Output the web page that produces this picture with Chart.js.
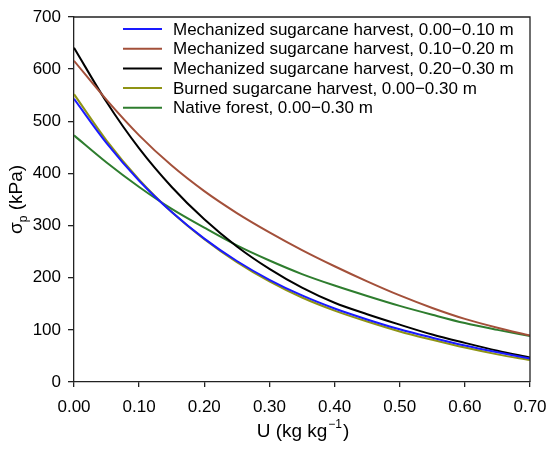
<!DOCTYPE html>
<html>
<head>
<meta charset="utf-8">
<script src="https://cdn.jsdelivr.net/npm/chart.js@4.4.1/dist/chart.umd.min.js"></script>
<style>
  html, body { margin: 0; padding: 0; background: #fff; }
  #wrap { width: 550px; height: 453px; }
</style>
</head>
<body>
<div id="wrap"><canvas id="precon"></canvas></div>
<script>
// water content U (kg kg-1), read every 0.05
const moistureU = [0, 0.05, 0.10, 0.15, 0.20, 0.25, 0.30, 0.35, 0.40, 0.45, 0.50, 0.55, 0.60, 0.65, 0.70];

// preconsolidation pressure (kPa)
const mech0010 = [543, 458, 386, 326, 275, 232, 196, 166, 141, 120, 101, 85, 70, 57, 45];
const mech1020 = [616, 541, 473, 415, 366, 324, 287, 253, 222, 193, 166, 142, 121, 104, 89];
const mech2030 = [641, 537, 448, 374, 312, 260, 217, 181, 152, 130, 110, 91, 75, 60, 47];
const burned0030 = [552, 463, 388, 326, 274, 230, 193, 162, 137, 116, 97, 81, 66, 53, 42];
const forest0030 = [473, 421, 374, 332, 296, 262, 233, 207, 185, 165, 146, 129, 113, 100, 88];

const seriesLabels = [
  "Mechanized sugarcane harvest, 0.00\u22120.10 m",
  "Mechanized sugarcane harvest, 0.10\u22120.20 m",
  "Mechanized sugarcane harvest, 0.20\u22120.30 m",
  "Burned sugarcane harvest, 0.00\u22120.30 m",
  "Native forest, 0.00\u22120.30 m"
];
const seriesColors = ["#1a1aff", "#a3503a", "#000000", "#8f9414", "#2e7d2e"];

const yTicks = [0, 100, 200, 300, 400, 500, 600, 700];
const xTicks = [0, 0.1, 0.2, 0.3, 0.4, 0.5, 0.6, 0.7];

const FONT = "'Liberation Sans', Arial, sans-serif";

function toPoints(vals) {
  return vals.map((v, i) => ({ x: moistureU[i], y: v }));
}

const allSeries = [mech0010, mech1020, mech2030, burned0030, forest0030];

// legend drawn inside the plot, top right
const innerLegend = {
  id: 'innerLegend',
  afterDatasetsDraw(chart) {
    const ctx = chart.ctx;
    const a = chart.chartArea;
    ctx.save();
    ctx.font = "17px " + FONT;
    ctx.textBaseline = 'middle';
    ctx.fillStyle = '#000';
    chart.data.datasets.forEach((ds, i) => {
      const y = a.top + 12 + i * 19.7;
      ctx.strokeStyle = ds.borderColor;
      ctx.lineWidth = 2;
      ctx.beginPath();
      ctx.moveTo(a.left + 49, y);
      ctx.lineTo(a.left + 88, y);
      ctx.stroke();
      ctx.fillText(ds.label, a.left + 99, y + 1);
    });
    ctx.restore();
  }
};

// box around plot + axis titles with sub/superscripts
const frameAndTitles = {
  id: 'frameAndTitles',
  afterDraw(chart) {
    const ctx = chart.ctx;
    const a = chart.chartArea;
    ctx.save();
    ctx.strokeStyle = '#222';
    ctx.lineWidth = 1.3;
    ctx.beginPath();
    ctx.moveTo(a.left, a.top);
    ctx.lineTo(a.right, a.top);
    ctx.lineTo(a.right, a.bottom);
    ctx.stroke();

    ctx.fillStyle = '#000';
    ctx.textBaseline = 'alphabetic';

    // x title: U (kg kg^-1)
    const big = "19px " + FONT, small = "12px " + FONT;
    ctx.font = big;
    const p1 = "U (kg kg", p3 = ")";
    const w1 = ctx.measureText(p1).width, w3 = ctx.measureText(p3).width;
    ctx.font = small;
    const p2 = "\u22121";
    const w2 = ctx.measureText(p2).width;
    let x = (a.left + a.right) / 2 - (w1 + w2 + w3) / 2;
    const yb = 437;
    ctx.font = big; ctx.fillText(p1, x, yb); x += w1 + 1;
    ctx.font = small; ctx.fillText(p2, x, yb - 9); x += w2 + 1;
    ctx.font = big; ctx.fillText(p3, x, yb);

    // y title: sigma_p (kPa)
    ctx.translate(22, (a.top + a.bottom) / 2);
    ctx.rotate(-Math.PI / 2);
    ctx.font = big;
    const q1 = "\u03c3", q3 = " (kPa)";
    const v1 = ctx.measureText(q1).width, v3 = ctx.measureText(q3).width;
    ctx.font = small;
    const q2 = "p";
    const v2 = ctx.measureText(q2).width;
    let t = -(v1 + v2 + v3) / 2;
    ctx.font = big; ctx.fillText(q1, t, 0); t += v1;
    ctx.font = small; ctx.fillText(q2, t, 5); t += v2;
    ctx.font = big; ctx.fillText(q3, t, 0);
    ctx.restore();
  }
};

new Chart(document.getElementById('precon'), {
  type: 'line',
  data: {
    datasets: allSeries.map((vals, i) => ({
      label: seriesLabels[i],
      data: toPoints(vals),
      borderColor: seriesColors[i],
      backgroundColor: seriesColors[i],
      borderWidth: 2,
      pointRadius: 0,
      fill: false,
      cubicInterpolationMode: 'monotone'
    }))
  },
  options: {
    responsive: true,
    maintainAspectRatio: false,
    animation: false,
    layout: { padding: { top: 17, right: 20, left: 0, bottom: 0 } },
    plugins: {
      legend: { display: false },
      tooltip: { enabled: false },
      title: { display: false }
    },
    scales: {
      x: {
        type: 'linear',
        min: 0,
        max: 0.7,
        afterBuildTicks: s => { s.ticks = xTicks.map(v => ({ value: v })); },
        afterFit: s => { s.height = 71; s.paddingLeft = 0; s.paddingRight = 0; },
        ticks: {
          color: '#000',
          font: { family: FONT, size: 17 },
          padding: 10,
          maxRotation: 0,
          callback: v => v.toFixed(2)
        },
        grid: { drawOnChartArea: false, drawTicks: true, tickLength: 5, color: '#222', lineWidth: 1.3 },
        border: { display: true, color: '#222', width: 1.3 }
      },
      y: {
        type: 'linear',
        min: 0,
        max: 700,
        afterBuildTicks: s => { s.ticks = yTicks.map(v => ({ value: v })); },
        afterFit: s => { s.width = 74; s.paddingTop = 0; s.paddingBottom = 0; },
        ticks: {
          color: '#000',
          font: { family: FONT, size: 17 },
          padding: 7
        },
        grid: { drawOnChartArea: false, drawTicks: true, tickLength: 6, color: '#222', lineWidth: 1.3 },
        border: { display: true, color: '#222', width: 1.3 }
      }
    }
  },
  plugins: [innerLegend, frameAndTitles]
});
</script>
</body>
</html>
